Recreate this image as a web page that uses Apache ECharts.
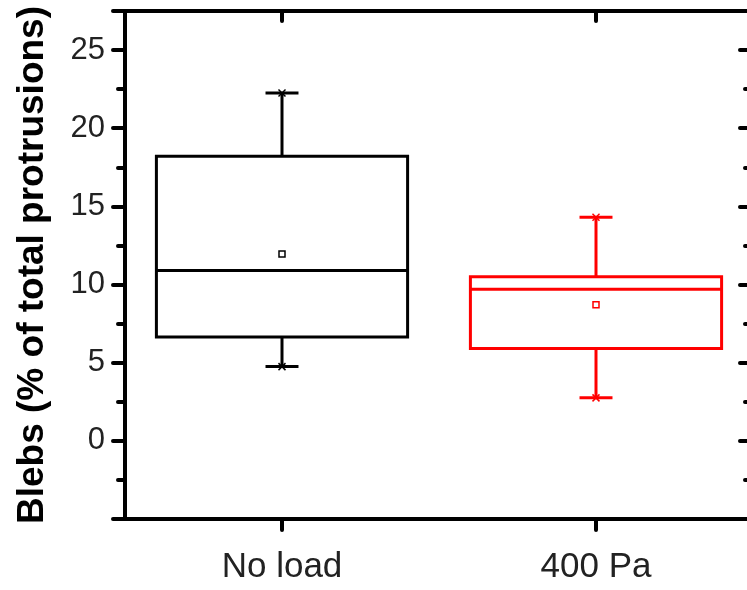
<!DOCTYPE html>
<html>
<head>
<meta charset="utf-8">
<script src="https://cdn.jsdelivr.net/npm/echarts@6/dist/echarts.min.js"></script>
<style>
html,body{margin:0;padding:0;background:#fff;}
#chart{width:747px;height:590px;}
</style>
</head>
<body>
<div id="chart"></div>
<script>
// ---- data ----
const categories = ['No load', '400 Pa'];
const whiskerLow = [4.75, 2.75];
const q1Values = [6.65, 5.9];
const medianValues = [10.9, 9.7];
const q3Values = [18.2, 10.5];
const whiskerHigh = [22.25, 14.3];
const meanValues = [11.95, 8.7];
const yTicks = [0, 5, 10, 15, 20, 25];

const boxColors = ['#000000', '#ff0000'];

const rows = categories.map((c, i) => [i, whiskerLow[i], q1Values[i], medianValues[i], q3Values[i], whiskerHigh[i], meanValues[i]]);

function renderItem(params, api) {
  const idx = api.value(0);
  const color = boxColors[idx];
  const pLow = api.coord([idx, api.value(1)]);
  const pQ1 = api.coord([idx, api.value(2)]);
  const pMed = api.coord([idx, api.value(3)]);
  const pQ3 = api.coord([idx, api.value(4)]);
  const pHigh = api.coord([idx, api.value(5)]);
  const pMean = api.coord([idx, api.value(6)]);
  const band = api.size([1, 0])[0];
  const bw = band * 0.8;
  const cx = pQ1[0];
  const capW = band * 0.105;
  const lw = 3;
  const st = {stroke: color, lineWidth: lw, fill: null};
  const ch = [];
  ch.push({type: 'rect', shape: {x: cx - bw / 2, y: pQ3[1], width: bw, height: pQ1[1] - pQ3[1]}, style: {stroke: color, lineWidth: lw, fill: 'rgba(0,0,0,0)'}});
  ch.push({type: 'line', shape: {x1: cx - bw / 2, y1: pMed[1], x2: cx + bw / 2, y2: pMed[1]}, style: st});
  ch.push({type: 'line', shape: {x1: cx, y1: pQ3[1], x2: cx, y2: pHigh[1]}, style: st});
  ch.push({type: 'line', shape: {x1: cx, y1: pQ1[1], x2: cx, y2: pLow[1]}, style: st});
  ch.push({type: 'line', shape: {x1: cx - capW / 2, y1: pHigh[1], x2: cx + capW / 2, y2: pHigh[1]}, style: st});
  ch.push({type: 'line', shape: {x1: cx - capW / 2, y1: pLow[1], x2: cx + capW / 2, y2: pLow[1]}, style: st});
  // crosses at whisker ends
  [pHigh, pLow].forEach(p => {
    const s = 3.5;
    ch.push({type: 'line', shape: {x1: p[0] - s, y1: p[1] - s, x2: p[0] + s, y2: p[1] + s}, style: {stroke: color, lineWidth: 1.5}});
    ch.push({type: 'line', shape: {x1: p[0] - s, y1: p[1] + s, x2: p[0] + s, y2: p[1] - s}, style: {stroke: color, lineWidth: 1.5}});
  });
  // mean square
  ch.push({type: 'rect', shape: {x: pMean[0] - 3, y: pMean[1] - 3, width: 6, height: 6}, style: {stroke: color, lineWidth: 1.5, fill: '#fff'}});
  return {type: 'group', children: ch};
}

const chart = echarts.init(document.getElementById('chart'), null, {renderer: 'canvas'});
const axisLineStyle = {color: '#000', width: 4};
chart.setOption({
  animation: false,
  backgroundColor: '#fff',
  grid: {left: 125, top: 11, width: 628, height: 508, containLabel: false, outerBoundsMode: 'none'},
  xAxis: [{
    type: 'category', data: categories, position: 'bottom',
    boundaryGap: true,
    axisLine: {onZero: false, lineStyle: axisLineStyle},
    axisTick: {show: true, interval: 0, alignWithLabel: true, inside: false, length: 11, lineStyle: {color: '#000', width: 4, cap: 'round'}},
    axisLabel: {interval: 0, fontFamily: 'Liberation Sans, Arial, sans-serif', fontSize: 35, color: '#222', margin: 31},
    splitLine: {show: false}
  }, {
    type: 'category', data: categories, position: 'top',
    boundaryGap: true,
    axisLine: {onZero: false, lineStyle: axisLineStyle},
    axisTick: {show: true, interval: 0, alignWithLabel: true, inside: true, length: 10, lineStyle: {color: '#000', width: 4, cap: 'round'}},
    axisLabel: {show: false},
    splitLine: {show: false}
  }],
  yAxis: [{
    type: 'value', position: 'left', min: -5, max: 27.5, interval: 5,
    name: 'Blebs (% of total protrusions)', nameLocation: 'middle', nameGap: 74,
    nameTextStyle: {fontFamily: 'Liberation Sans, Arial, sans-serif', fontSize: 37, fontWeight: 'bold', color: '#000'},
    axisLine: {show: true, onZero: false, lineStyle: axisLineStyle},
    axisTick: {show: true, inside: false, length: 12, lineStyle: {color: '#000', width: 4, cap: 'round'}},
    minorTick: {show: true, splitNumber: 2, length: 7, lineStyle: {color: '#000', width: 4, cap: 'round'}},
    axisLabel: {fontFamily: 'Liberation Sans, Arial, sans-serif', fontSize: 31, color: '#222', margin: 20,
      formatter: v => yTicks.includes(v) ? String(v) : ''},
    splitLine: {show: false}
  }, {
    type: 'value', position: 'right', min: -5, max: 27.5, interval: 5,
    axisLine: {show: true, onZero: false, lineStyle: axisLineStyle},
    axisTick: {show: true, inside: true, length: 13, lineStyle: {color: '#000', width: 4, cap: 'round'}},
    minorTick: {show: true, splitNumber: 2, length: 8, lineStyle: {color: '#000', width: 4, cap: 'round'}},
    axisLabel: {show: false},
    splitLine: {show: false}
  }],
  series: [{
    type: 'custom',
    renderItem: renderItem,
    data: rows,
    encode: {x: 0, y: [1, 2, 3, 4, 5, 6]},
    xAxisIndex: 0, yAxisIndex: 0,
    clip: false
  }]
});
</script>
</body>
</html>
